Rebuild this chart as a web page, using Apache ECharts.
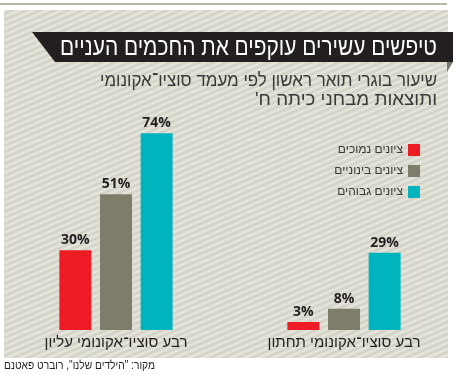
<!DOCTYPE html>
<html>
<head>
<meta charset="utf-8">
<script src="https://cdn.jsdelivr.net/npm/echarts@6/dist/echarts.min.js"></script>
<style>
html,body{margin:0;padding:0;background:#fff;}
#c{width:458px;height:375px;}
</style>
</head>
<body>
<div id="c" dir="rtl"></div>
<script>
const categories = ["רבע סוציו־אקונומי עליון", "רבע סוציו־אקונומי תחתון"];
const seriesNames = ["ציונים נמוכים", "ציונים בינוניים", "ציונים גבוהים"];
const lowScores = [30, 3];
const midScores = [51, 8];
const highScores = [74, 29];
const colors = ["#ed1c24", "#7e7d6b", "#00b4bd"];
const titleText = "טיפשים עשירים עוקפים את החכמים העניים";
const subtitleLines = ["שיעור בוגרי תואר ראשון לפי מעמד סוציו־אקונומי", "ותוצאות מבחני כיתה ח'"];
const sourceText = "מקור: \"הילדים שלנו\", רוברט פאטנם";

// striped background pattern
const W = 14, H = 6;
const pc = document.createElement('canvas');
pc.width = W; pc.height = H;
const pctx = pc.getContext('2d');
const img = pctx.createImageData(W, H);
for (let y = 0; y < H; y++) {
  for (let x = 0; x < W; x++) {
    const ph = ((y + x * H / W) % H) / H;
    const t = 0.5 + 0.5 * Math.cos(ph * 2 * Math.PI);
    const light = [229, 229, 220], dark = [210, 210, 198];
    const i = (y * W + x) * 4;
    for (let k = 0; k < 3; k++) img.data[i + k] = Math.round(dark[k] + (light[k] - dark[k]) * t);
    img.data[i + 3] = 255;
  }
}
pctx.putImageData(img, 0, 0);

const heb = '"Liberation Sans", "DejaVu Sans", sans-serif';
const mctx = document.createElement('canvas').getContext('2d');
function fitText(text, size, color, ax, ay, align, targetW, z) {
  const font = size + 'px ' + heb;
  mctx.font = font;
  const w = mctx.measureText(text).width;
  const s = Math.min(1.15, targetW / w);
  return {type: 'text', z: z || 10, x: ax, y: ay, scaleX: s,
    style: {x: 0, y: 0, text: text, fill: color, font: font, align: align, verticalAlign: 'middle'}};
}

const chart = echarts.init(document.getElementById('c'), null, {renderer: 'canvas'});
const dataSets = [lowScores, midScores, highScores];

chart.setOption({
  animation: false,
  backgroundColor: '#ffffff',
  graphic: [
    {type: 'rect', z: -10, shape: {x: 0, y: 3, width: 447, height: 2}, style: {fill: '#b8b6a8'}},
    {type: 'rect', z: -10, shape: {x: 4, y: 10, width: 444, height: 348}, style: {fill: {image: pc, repeat: 'repeat'}}},
    {type: 'polygon', z: -5, shape: {points: [[32, 32], [453, 32], [453, 62], [55, 62]]}, style: {fill: '#231f20'}},
    {type: 'polygon', z: -5, shape: {points: [[447, 62], [453, 62], [447, 72]]}, style: {fill: '#77776f'}},
    fitText(titleText, 25, '#ffffff', 437, 48, 'right', 377),
    fitText(subtitleLines[0], 19, '#3a3a3a', 437, 81, 'right', 337),
    fitText(subtitleLines[1], 19, '#3a3a3a', 437, 100, 'right', 182),
    fitText(sourceText, 12, '#231f20', 4, 366, 'left', 151)
  ],
  legend: {
    orient: 'vertical',
    right: 33,
    top: 139,
    align: 'right',
    itemWidth: 12,
    itemHeight: 12,
    itemGap: 9,
    icon: 'rect',
    data: seriesNames,
    textStyle: {fontFamily: heb, fontSize: 12, color: '#3a3a3a', lineHeight: 12}
  },
  grid: {left: 2, width: 458, top: 64, bottom: 45, containLabel: false},
  xAxis: {
    type: 'category',
    data: categories,
    axisLine: {show: false},
    axisTick: {show: false},
    axisLabel: {margin: 5, fontFamily: heb, fontSize: 15, color: '#231f20'}
  },
  yAxis: {type: 'value', min: 0, max: 100, show: false, splitLine: {show: false}},
  series: seriesNames.map((n, i) => ({
    name: n,
    type: 'bar',
    data: dataSets[i],
    barWidth: 32,
    barGap: '27%',
    itemStyle: {color: colors[i]},
    label: {
      show: true,
      position: 'top',
      distance: 3,
      formatter: '{c}%',
      fontFamily: '"Open Sans", sans-serif',
      fontWeight: 'bold',
      fontSize: 14,
      color: '#231f20'
    }
  }))
});
</script>
</body>
</html>
